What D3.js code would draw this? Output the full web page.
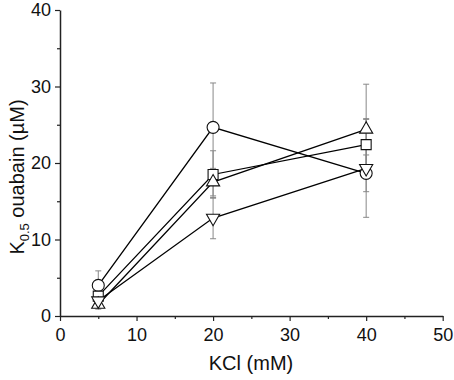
<!DOCTYPE html>
<html><head><meta charset="utf-8">
<script src="https://cdn.jsdelivr.net/npm/d3@7"></script>
<style>body{margin:0;background:#fff}svg{display:block}</style>
</head><body>
<script>
const kcl = [5, 20, 40];
const circleVals = [4.0, 24.66, 18.65];
const circleErr = [1.9, 5.8, 2.4];
const squareVals = [2.6, 18.5, 22.4];
const squareErr = [0.7, 3.1, 3.4];
const upVals = [1.5, 17.5, 24.4];
const upErr = [0.6, 1.8, 5.9];
const downVals = [2.0, 12.8, 19.3];
const downErr = [0.7, 2.7, 6.4];
const xTicks = [0, 10, 20, 30, 40, 50];
const yTicks = [0, 10, 20, 30, 40];

const series = [
  {name: "circle", vals: circleVals, err: circleErr, sym: d3.symbolCircle, size: 113},
  {name: "square", vals: squareVals, err: squareErr, sym: d3.symbolSquare, size: 100},
  {name: "up", vals: upVals, err: upErr, sym: d3.symbolTriangle, size: 75, rot: 0},
  {name: "down", vals: downVals, err: downErr, sym: d3.symbolTriangle, size: 75, rot: 180}
];

const W = 454, H = 380;
const svg = d3.select("body").append("svg").attr("width", W).attr("height", H);
const x = d3.scaleLinear().domain([0, 50]).range([60, 442.7]);
const y = d3.scaleLinear().domain([0, 40]).range([316, 10]);

const font = "Liberation Sans, Arial, sans-serif";

// axes
const xAxis = d3.axisBottom(x).tickValues(xTicks).tickSize(5).tickPadding(7).tickSizeOuter(0);
svg.append("g").attr("transform", "translate(0,316)").call(xAxis);
const xMinor = d3.axisBottom(x).tickValues([5,15,25,35,45]).tickSize(3).tickFormat("").tickSizeOuter(0);
svg.append("g").attr("transform", "translate(0,316)").call(xMinor).select(".domain").remove();

const yAxis = d3.axisLeft(y).tickValues(yTicks).tickSize(5).tickPadding(4).tickSizeOuter(0);
svg.append("g").attr("transform", "translate(60,0)").call(yAxis);
const yMinor = d3.axisLeft(y).tickValues([5,15,25,35]).tickSize(3).tickFormat("").tickSizeOuter(0);
svg.append("g").attr("transform", "translate(60,0)").call(yMinor).select(".domain").remove();

svg.selectAll(".domain").attr("stroke", "#222").attr("stroke-width", 1.5);
svg.selectAll(".tick line").attr("stroke", "#222").attr("stroke-width", 1.2);
svg.selectAll(".tick text").attr("font-family", font).attr("font-size", 18).attr("fill", "#111");

// titles
svg.append("text").attr("x", 251).attr("y", 370).attr("text-anchor", "middle")
  .attr("font-family", font).attr("font-size", 20).attr("fill", "#111").text("KCl (mM)");
const yt = svg.append("text").attr("transform", "translate(24,177) rotate(-90)")
  .attr("text-anchor", "middle").attr("font-family", font).attr("font-size", 20).attr("fill", "#111");
yt.append("tspan").text("K");
yt.append("tspan").attr("font-size", 13).attr("dy", 5).text("0.5");
yt.append("tspan").attr("dy", -5).text(" ouabain (\u00B5M)");

// error bars
const eg = svg.append("g").attr("stroke", "#888").attr("stroke-width", 1);
series.forEach(s => {
  kcl.forEach((k, i) => {
    const cx = x(k), top = y(s.vals[i] + s.err[i]), bot = y(s.vals[i] - s.err[i]);
    eg.append("line").attr("x1", cx).attr("x2", cx).attr("y1", top).attr("y2", bot);
    eg.append("line").attr("x1", cx - 3).attr("x2", cx + 3).attr("y1", top).attr("y2", top);
    eg.append("line").attr("x1", cx - 3).attr("x2", cx + 3).attr("y1", bot).attr("y2", bot);
  });
});

// lines
const line = d3.line().x((d, i) => x(kcl[i])).y(d => y(d));
series.forEach(s => {
  svg.append("path").attr("d", line(s.vals)).attr("fill", "none")
    .attr("stroke", "#000").attr("stroke-width", 1.3);
});

// markers
series.forEach(s => {
  const sym = d3.symbol().type(s.sym).size(s.size);
  kcl.forEach((k, i) => {
    svg.append("path").attr("d", sym())
      .attr("transform", `translate(${x(k)},${y(s.vals[i])})` + (s.rot ? ` rotate(${s.rot})` : ""))
      .attr("fill", "#fff").attr("stroke", "#111").attr("stroke-width", 1.1);
  });
});
</script>
</body></html>
